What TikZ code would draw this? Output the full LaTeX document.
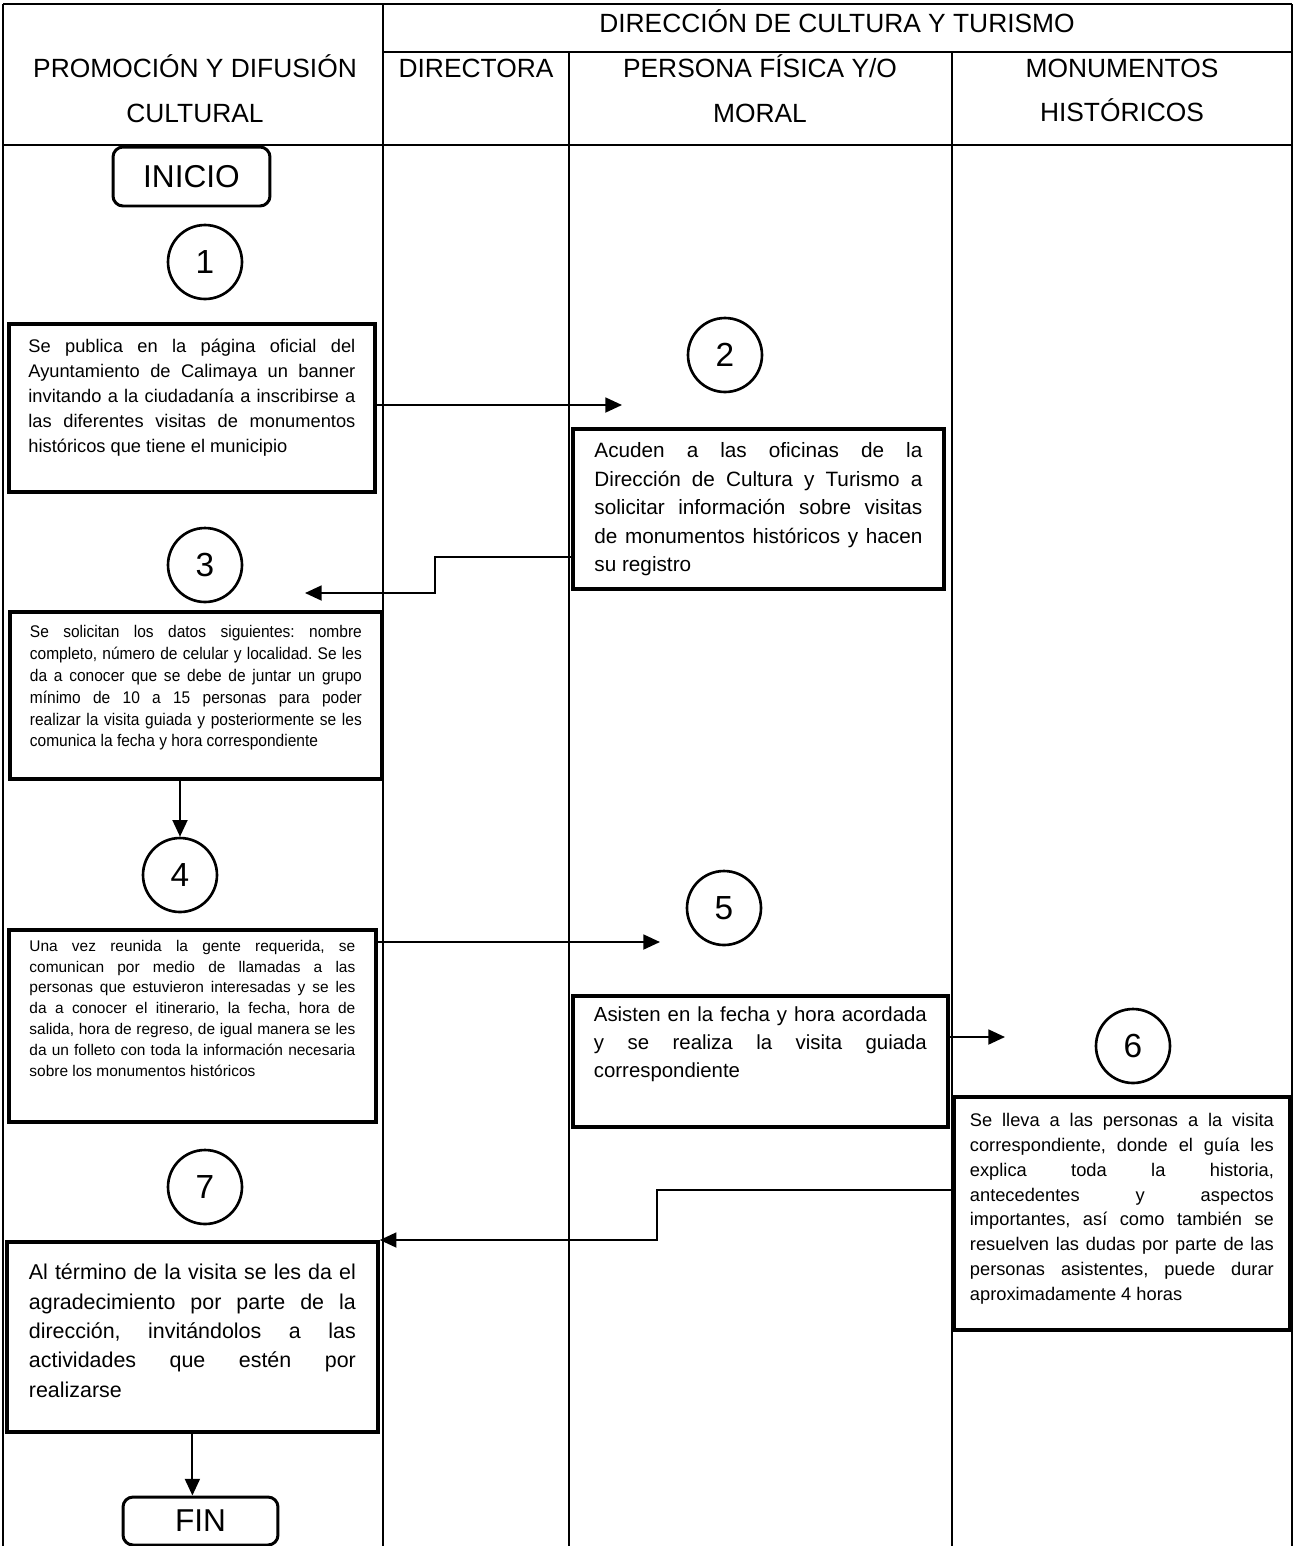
\documentclass[tikz,border=0pt]{standalone}
\usepackage{fontspec}
\setmainfont{Liberation Sans}
\newfontfamily\narrowsans[FakeStretch=0.92]{Liberation Sans}
\usepackage{tikz}
\usetikzlibrary{arrows.meta,positioning,calc}
\tolerance=10000
\hbadness=10000
\frenchspacing

\newcommand{\boxtext}[4]{\parbox[c][#1][t]{#2}{\vspace*{#3}#4}}

\tikzset{
	lane/.style={line width=1.3pt},
	header/.style={font=\fontsize{15}{25.5}\selectfont, align=center},
	stepbox/.style={draw, line width=2.2pt, anchor=north west, inner ysep=0pt},
	stepnum/.style={draw, circle, line width=1.5pt, minimum size=1.48cm, inner sep=0pt, font=\fontsize{19}{19}\selectfont},
	terminal/.style={draw, rounded corners=0.2cm, line width=1.7pt, font=\fontsize{18}{18}\selectfont},
	flow/.style={line width=1.2pt, -{Triangle[length=9.5pt,width=8.5pt]}}
}

\begin{document}
\begin{tikzpicture}[x=0.02cm, y=-0.02cm]
	\useasboundingbox (0,0) rectangle (1296,1546);

	\draw[lane] (3,4) -- (1292,4);
	\draw[lane] (3,4) -- (3,1546);
	\draw[lane] (1292,4) -- (1292,1546);
	\draw[lane] (383,4) -- (383,1546);
	\draw[lane] (383,52) -- (1292,52);
	\draw[lane] (3,145) -- (1292,145);
	\draw[lane] (569,52) -- (569,1546);
	\draw[lane] (952,52) -- (952,1546);

	\node[header] (hdir) at (837,21) {DIRECCIÓN DE CULTURA Y TURISMO};
	\node[header] (hprom) at (195,88.5) {PROMOCIÓN Y DIFUSIÓN\\CULTURAL};
	\node[header] (hdirectora) at (476,68) {DIRECTORA};
	\node[header] (hpersona) at (760,88.5) {PERSONA FÍSICA Y/O\\MORAL};
	\node[header] (hmonum) at (1122,90.5) {MONUMENTOS\\HISTÓRICOS};

	\node[terminal, minimum width=3.14cm, minimum height=1.18cm] (inicio) at (191.5,176.5) {INICIO};

	\node[stepnum] (c1) at (205,262) {1};
	\node[stepbox, inner xsep=0.39cm] (p1) at (7,322) {\boxtext{3.36cm}{6.54cm}{0.3cm}{\fontsize{10.4}{14.2}\selectfont Se publica en la página oficial del\linebreak Ayuntamiento de Calimaya un banner\linebreak invitando a la ciudadanía a inscribirse a\linebreak las diferentes visitas de monumentos\linebreak históricos que tiene el municipio}};

	\node[stepnum] (c2) at (725,355) {2};
	\coordinate (t2) at (622,405);
	\node[stepbox, inner xsep=0.43cm] (p2) at (571,427) {\boxtext{3.2cm}{6.56cm}{0.28cm}{\fontsize{11.8}{16.2}\selectfont Acuden a las oficinas de la\linebreak Dirección de Cultura y Turismo a\linebreak solicitar información sobre visitas\linebreak de monumentos históricos y hacen\linebreak su registro}};

	\node[stepnum] (c3) at (205,565) {3};
	\coordinate (t3) at (305,593);
	\node[stepbox, inner xsep=0.4cm] (p3) at (8,610) {\boxtext{3.34cm}{6.64cm}{0.26cm}{\narrowsans\fontsize{9.6}{12.5}\selectfont Se solicitan los datos siguientes: nombre\linebreak completo, número de celular y localidad. Se les\linebreak da a conocer que se debe de juntar un grupo\linebreak mínimo de 10 a 15 personas para poder\linebreak realizar la visita guiada y posteriormente se les\linebreak comunica la fecha y hora correspondiente}};

	\node[stepnum] (c4) at (180,875) {4};
	\node[stepbox, inner xsep=0.41cm] (p4) at (7,928) {\boxtext{3.84cm}{6.52cm}{0.2cm}{\fontsize{8.8}{11.9}\selectfont Una vez reunida la gente requerida, se\linebreak comunican por medio de llamadas a las\linebreak personas que estuvieron interesadas y se les\linebreak da a conocer el itinerario, la fecha, hora de\linebreak salida, hora de regreso, de igual manera se les\linebreak da un folleto con toda la información necesaria\linebreak sobre los monumentos históricos}};

	\node[stepnum] (c5) at (724,908) {5};
	\coordinate (t5) at (660,942);
	\node[stepbox, inner xsep=0.42cm] (p5) at (571,994) {\boxtext{2.62cm}{6.66cm}{0.21cm}{\fontsize{11.6}{15.9}\selectfont Asisten en la fecha y hora acordada\linebreak y se realiza la visita guiada\linebreak correspondiente}};

	\node[stepnum] (c6) at (1133,1046) {6};
	\coordinate (t6) at (1005,1037);
	\node[stepbox, inner xsep=0.32cm] (p6) at (952,1095) {\boxtext{4.66cm}{6.08cm}{0.32cm}{\fontsize{10.4}{14.2}\selectfont Se lleva a las personas a la visita\linebreak correspondiente, donde el guía les\linebreak explica toda la historia,\linebreak antecedentes y aspectos\linebreak importantes, así como también se\linebreak resuelven las dudas por parte de las\linebreak personas asistentes, puede durar\linebreak aproximadamente 4 horas}};

	\node[stepnum] (c7) at (205,1187) {7};
	\node[stepbox, inner xsep=0.44cm] (p7) at (5,1240) {\boxtext{3.8cm}{6.54cm}{0.44cm}{\fontsize{12.2}{16.7}\selectfont Al término de la visita se les da el\linebreak agradecimiento por parte de la\linebreak dirección, invitándolos a las\linebreak actividades que estén por\linebreak realizarse}};

	\node[terminal, minimum width=3.1cm, minimum height=0.96cm] (fin) at (200.5,1521) {FIN};

	\draw[flow] (p1.east |- 0,405) -- (t2);
	\draw[flow] (p2.west |- 0,557) -- (435,557) -- (435,593) -- (t3);
	\draw[flow] (p3.south -| c4) -- (c4.north);
	\draw[flow] (p4.east |- 0,942) -- (t5);
	\draw[flow] (p5.east |- 0,1037) -- (t6);
	\draw[flow] (p6.west |- 0,1190) -- (657,1190) -- (657,1240) -- (p7.north east);
	\draw[flow] (p7.south) -- (p7.south |- fin.north);
\end{tikzpicture}
\end{document}
